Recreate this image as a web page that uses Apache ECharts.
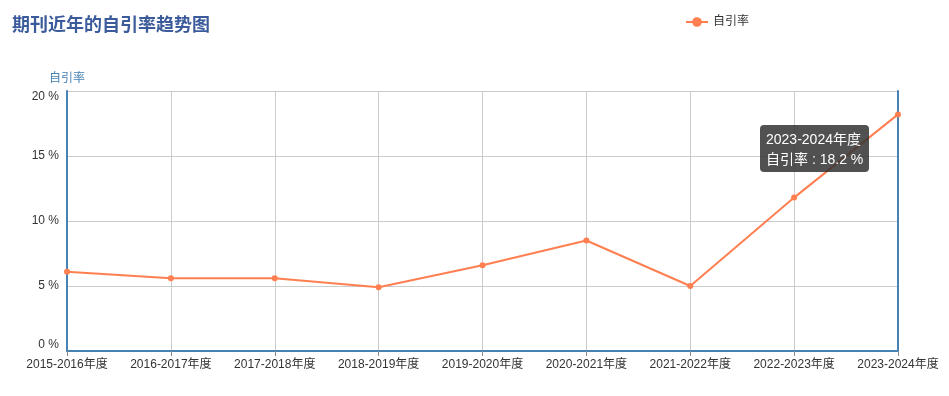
<!DOCTYPE html>
<html><head><meta charset="utf-8">
<script src="https://cdn.jsdelivr.net/npm/echarts@6/dist/echarts.min.js"></script>
<style>html,body{margin:0;padding:0;background:#fff}#c{width:949px;height:396px}</style>
</head><body><div id="c"></div>
<script>
var categories = ['2015-2016年度','2016-2017年度','2017-2018年度','2018-2019年度','2019-2020年度','2020-2021年度','2021-2022年度','2022-2023年度','2023-2024年度'];
var selfCiteRate = [6.1, 5.6, 5.6, 4.9, 6.6, 8.5, 5.0, 11.8, 18.2];
var yTicks = [0, 5, 10, 15, 20];
var seriesName = '自引率';
var titleText = '期刊近年的自引率趋势图';

var FF = '"Liberation Sans", Arial, "Noto Sans CJK SC", sans-serif';
var chart = echarts.init(document.getElementById('c'));
var axisBlue = '#4682b4';
var yMin = yTicks[0], yMax = yTicks[yTicks.length - 1];
chart.setOption({
  animation: false,
  title: { text: titleText, left: 7, top: 10, textStyle: { fontSize: 18, fontWeight: 'bold', color: '#3b5b9a', fontFamily: '"Microsoft YaHei", "Noto Sans CJK SC", sans-serif' } },
  legend: { data: [seriesName], left: 680, top: 11, itemWidth: 22, itemHeight: 12, textStyle: { color: '#333', fontSize: 12, fontFamily: FF } },
  tooltip: { trigger: 'item', backgroundColor: 'rgba(50,50,50,0.85)', borderWidth: 0, borderRadius: 4, padding: [4, 6, 3, 6], textStyle: { color: '#fff', fontSize: 14, fontFamily: FF },
    extraCssText: 'line-height:20px;box-shadow:none;',
    formatter: function (p) { return p.name + '<br/>' + p.seriesName + ' : ' + p.value + ' %'; },
    position: [760, 125], transitionDuration: 0 },
  grid: { left: 67, right: 51, top: 91, bottom: 45 },
  xAxis: { type: 'category', data: categories, boundaryGap: false,
    axisLine: { lineStyle: { color: axisBlue, width: 2 } },
    axisTick: { show: true, lineStyle: { color: '#888' } },
    axisLabel: { color: '#333', fontSize: 12, fontFamily: FF, margin: 8, interval: 0 },
    splitLine: { show: true, lineStyle: { color: '#ccc' } } },
  yAxis: [{ type: 'value', name: seriesName, min: yMin, max: yMax, interval: 5,
    nameTextStyle: { color: axisBlue, fontSize: 12, fontFamily: FF, align: 'center' }, nameGap: 6,
    axisLine: { show: true, lineStyle: { color: axisBlue, width: 2 } }, axisTick: { show: false },
    axisLabel: { color: '#333', fontSize: 12, fontFamily: FF, margin: 8,
      formatter: function (v) { return v === yMax ? '{t|' + v + ' %}' : (v === yMin ? '{b|' + v + ' %}' : v + ' %'); },
      rich: { t: { padding: [12, 0, 0, 0], fontSize: 12, fontFamily: FF, color: '#333' }, b: { padding: [0, 0, 12, 0], fontSize: 12, fontFamily: FF, color: '#333' } } },
    splitLine: { show: true, lineStyle: { color: '#ccc' } } },
    { type: 'value', position: 'right', min: yMin, max: yMax, interval: 5,
    axisLine: { show: true, lineStyle: { color: axisBlue, width: 2 } }, axisTick: { show: false }, axisLabel: { show: false }, splitLine: { show: false } }],
  series: [{ name: seriesName, type: 'line', data: selfCiteRate, symbol: 'circle', symbolSize: 6,
    itemStyle: { color: '#ff7f50' }, lineStyle: { color: '#ff7f50', width: 2 } }]
});
setTimeout(function(){ chart.dispatchAction({ type: 'showTip', seriesIndex: 0, dataIndex: 8 }); }, 50);
</script></body></html>
